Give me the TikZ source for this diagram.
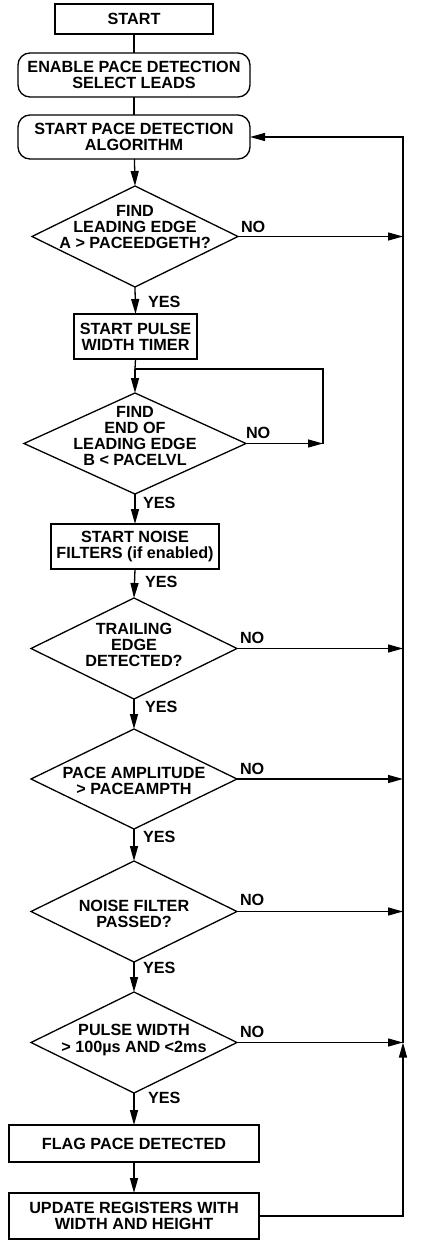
\documentclass[tikz,border=0pt]{standalone}
\usepackage{fontspec}
\setmainfont{Liberation Sans}
\usetikzlibrary{shapes.geometric,arrows.meta}
\begin{document}
\begin{tikzpicture}[x=1pt,y=-1pt,
  line width=1.3pt,
  every node/.style={font=\fontsize{16.2}{16.3}\selectfont\bfseries, inner sep=0pt, outer sep=0pt},
  box/.style={draw, rectangle, align=center},
  rbox/.style={draw, rectangle, rounded corners=12pt, align=center},
  dia/.style={draw, diamond},
  txt/.style={align=center},
  lbl/.style={anchor=west},
  arr/.style={-{Triangle[length=15pt,width=8pt]}}]
\useasboundingbox (0,0) rectangle (421,1241);
% nodes
\node[box, minimum width=158pt, minimum height=30pt] (start) at (134,19) {START};
\node[rbox, minimum width=232pt, minimum height=44pt] (enable) at (134,75) {ENABLE PACE DETECTION\\SELECT LEADS};
\node[rbox, minimum width=232pt, minimum height=44pt] (algo) at (134,137) {START PACE DETECTION\\ALGORITHM};
\node[dia, minimum width=206pt, minimum height=101pt] (d1) at (135,236.5) {};
\node[txt] (t1) at (135,227) {FIND\\LEADING EDGE\\A > PACEEDGETH?};
\node[box, minimum width=123pt, minimum height=45pt] (timer) at (135.5,336.5) {START PULSE\\WIDTH TIMER};
\node[dia, minimum width=222pt, minimum height=101pt] (d2) at (135,443.5) {};
\node[txt] (t2) at (135,436) {FIND\\END OF\\LEADING EDGE\\B < PACELVL};
\node[box, minimum width=168pt, minimum height=45pt] (noise) at (135,546.5) {START NOISE\\FILTERS (if enabled)};
\node[dia, minimum width=206pt, minimum height=101pt] (d3) at (134,648.5) {};
\node[txt] (t3) at (134,645) {TRAILING\\EDGE\\DETECTED?};
\node[dia, minimum width=206pt, minimum height=100pt] (d4) at (134,779) {};
\node[txt] (t4) at (134,781) {PACE AMPLITUDE\\> PACEAMPTH};
\node[dia, minimum width=206pt, minimum height=101pt] (d5) at (134,911.5) {};
\node[txt] (t5) at (134,914) {NOISE FILTER\\PASSED?};
\node[dia, minimum width=206pt, minimum height=101pt] (d6) at (134,1042.5) {};
\node[txt] (t6) at (134,1040) {PULSE WIDTH\\> 100µs AND <2ms};
\node[box, minimum width=250pt, minimum height=37pt] (flag) at (134,1143.5) {FLAG PACE DETECTED};
\node[box, minimum width=250pt, minimum height=46pt] (upd) at (134,1216) {UPDATE REGISTERS WITH\\WIDTH AND HEIGHT};
% helper coordinates
\coordinate (rtop) at (403,137);
\coordinate (rbot) at (403,1042.5);
\coordinate (lp1) at (135,369);
\coordinate (lp2) at (323,369);
\coordinate (lp3) at (323,443.5);
% vertical flow
\draw (start) -- (enable);
\draw (enable) -- (algo);
\draw[arr] (algo) -- (d1.north);
\draw[arr] (d1.south) -- (timer.north);
\draw (timer.south) -- (lp1);
\draw[arr] (lp1) -- (d2.north);
\draw[arr] (d2.south) -- (noise.north);
\draw[arr] (noise.south) -- (d3.north);
\draw[arr] (d3.south) -- (d4.north);
\draw[arr] (d4.south) -- (d5.north);
\draw[arr] (d5.south) -- (d6.north);
\draw[arr] (d6.south) -- (flag.north);
\draw[arr] (flag) -- (upd);
% loop on d2
\draw (lp1) -- (lp2) -- (lp3);
\draw[arr] (d2.east) -- (lp3);
% NO branches
\draw[arr] (d1.east) -- (d1.east -| rtop);
\draw[arr] (d3.east) -- (d3.east -| rtop);
\draw[arr] (d4.east) -- (d4.east -| rtop);
\draw[arr] (d5.east) -- (d5.east -| rtop);
\draw[arr] (d6.east) -- (d6.east -| rtop);
% return line
\draw[arr] (upd.east) -| (rbot);
\draw[arr] (rbot) -- (rtop) -- (algo.east);
% labels
\node[lbl] (no1) at (241,227) {NO};
\node[lbl] (no2) at (246,433) {NO};
\node[lbl] (no3) at (240,638) {NO};
\node[lbl] (no4) at (240,769) {NO};
\node[lbl] (no5) at (240,900) {NO};
\node[lbl] (no6) at (240,1032) {NO};
\node[lbl] (y1) at (148,302) {YES};
\node[lbl] (y2) at (143,503) {YES};
\node[lbl] (y3) at (145,582) {YES};
\node[lbl] (y4) at (145,707) {YES};
\node[lbl] (y5) at (143,837) {YES};
\node[lbl] (y6) at (143,968) {YES};
\node[lbl] (y7) at (148,1098) {YES};
\end{tikzpicture}
\end{document}
